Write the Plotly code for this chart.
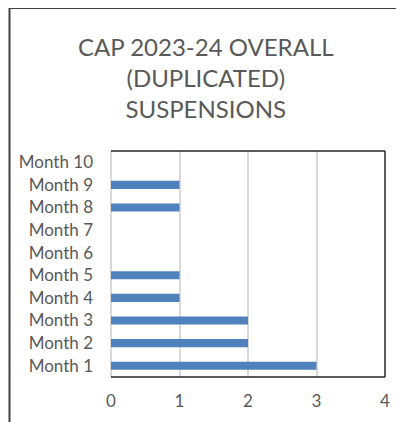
import plotly.graph_objects as go

# data
months = ['Month 1', 'Month 2', 'Month 3', 'Month 4', 'Month 5',
          'Month 6', 'Month 7', 'Month 8', 'Month 9', 'Month 10']
suspensions = [3, 2, 2, 1, 1, 0, 0, 1, 1, 0]
x_ticks = [0, 1, 2, 3, 4]
title_lines = ['CAP 2023-24 OVERALL', '(DUPLICATED)', 'SUSPENSIONS']

text_grey = '#595959'
font_name = 'Lato, Open Sans, sans-serif'

fig = go.Figure()

fig.add_trace(go.Bar(y=months,
                     x=suspensions,
                     orientation='h',
                     width=0.36,
                     marker=dict(color='#4f81bd', line=dict(width=0))))

# plot area frame (top, right, bottom) like the Excel chart
frame = dict(type='line', xref='paper', yref='paper',
             line=dict(color='#262626', width=1.5), layer='above')
fig.add_shape(x0=0, x1=1, y0=1, y1=1, **frame)
fig.add_shape(x0=1, x1=1, y0=0, y1=1, **frame)
fig.add_shape(x0=0, x1=1, y0=0, y1=0, **frame)

# outer chart border, cut off by the screenshot on the right and bottom
outer = dict(type='line', xref='paper', yref='paper',
             line=dict(color='#404040', width=2), layer='above')
fig.add_shape(x0=-0.3704, x1=-0.3704, y0=-0.4, y1=1.633, **outer)
fig.add_shape(x0=-0.3704, x1=1.3, y0=1.633, y1=1.633, **outer)

fig.add_annotation(text='<br>'.join(title_lines),
                   xref='paper', yref='paper', x=0.345, y=1.325,
                   xanchor='center', yanchor='middle', showarrow=False,
                   font=dict(family=font_name, size=24, color=text_grey))

# the page body adds an 8px margin, so the margins here are 8px smaller on top/left
fig.update_layout(width=404, height=422,
                  margin=dict(l=103, r=27, t=143, b=53),
                  paper_bgcolor='white',
                  plot_bgcolor='white',
                  showlegend=False,
                  font=dict(family=font_name, size=17, color=text_grey),
                  xaxis=dict(range=[0, 4], tickvals=x_ticks, showgrid=True,
                             gridcolor='#d9d9d9', gridwidth=1.5,
                             zeroline=True, zerolinecolor='#d9d9d9', zerolinewidth=2,
                             showline=False, ticks='', ticklabelstandoff=12,
                             fixedrange=True),
                  yaxis=dict(categoryorder='array', categoryarray=months,
                             showgrid=False, showline=False, ticks='',
                             ticklabelstandoff=17, fixedrange=True))

fig.write_html('out.html')
